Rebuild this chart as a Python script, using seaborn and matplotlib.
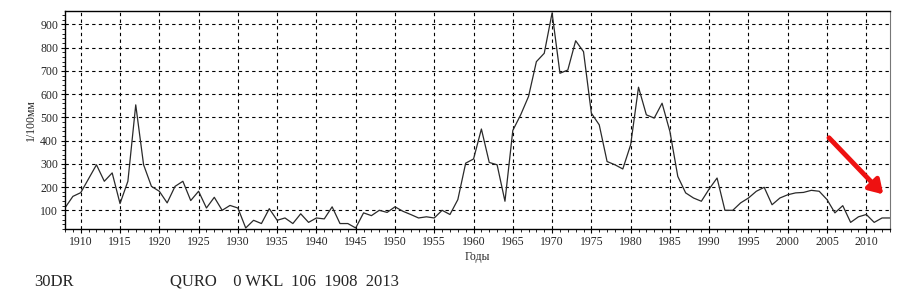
import matplotlib
matplotlib.use("Agg")
import matplotlib.pyplot as plt
from matplotlib.ticker import MultipleLocator
import seaborn as sns
import pandas as pd

years = list(range(1908, 2014))
widths = [
    111, 160, 176, 236, 296, 225, 261, 129, 225, 554,
    296, 203, 182, 132, 203, 225, 142, 182, 110, 156,
    100, 121, 110, 24, 57, 43, 107, 57, 67, 43,
    85, 48, 67, 63, 115, 43, 43, 24, 89, 77,
    100, 91, 115, 96, 82, 67, 72, 67, 100, 82,
    146, 303, 321, 450, 306, 296, 139, 444, 511, 590,
    740, 776, 950, 690, 704, 830, 783, 518, 468, 310,
    296, 278, 382, 630, 511, 497, 561, 439, 246, 175,
    153, 139, 192, 239, 100, 100, 132, 153, 182, 199,
    124, 153, 167, 175, 177, 186, 182, 146, 89, 120,
    48, 72, 82, 48, 67, 67,
]
x_ticks = list(range(1910, 2011, 5))
y_ticks = list(range(100, 901, 100))
footer_left = "30DR"
footer_right = "QURO    0 WKL  106  1908  2013"

df = pd.DataFrame({"year": years, "width": widths})

sns.set_style("white")
plt.rcParams['font.family'] = ['Liberation Serif', 'DejaVu Serif']

fig = plt.figure(figsize=(9.16, 3.06), dpi=100)
ax = fig.add_axes([0.071, 0.252, 0.9005, 0.712])

sns.lineplot(data=df, x="year", y="width", ax=ax, color="#2a2a2a", linewidth=0.9)

ax.set_xlim(1908, 2013)
ax.set_ylim(20, 958)
ax.set_xticks(x_ticks)
ax.set_yticks(y_ticks)
ax.xaxis.set_minor_locator(MultipleLocator(1))
ax.yaxis.set_minor_locator(MultipleLocator(20))
ax.tick_params(axis="both", which="major", labelsize=8.5, length=3, width=0.8,
               direction="out", color="black", pad=2)
ax.tick_params(axis="both", which="minor", length=2, width=0.6, direction="out",
               color="black")
ax.tick_params(axis="x", bottom=True, which="both")
ax.tick_params(axis="y", left=True, which="both")

ax.grid(True, which="major", color="black", linestyle=(0, (3, 3)), linewidth=0.8)

for side in ["left", "bottom", "top"]:
    ax.spines[side].set_color("black")
    ax.spines[side].set_linewidth(1.0)
ax.spines["right"].set_color("#777777")
ax.spines["right"].set_linewidth(0.8)

ax.set_xlabel("Годы", fontsize=8.5, labelpad=2)
ax.set_ylabel("1/100мм", fontsize=8.5, labelpad=2)

# red arrow pointing at recent decline
ax.annotate("", xy=(2012.4, 160), xytext=(2005, 421),
            arrowprops=dict(arrowstyle="-|>,head_length=0.8,head_width=0.5",
                            color="#ee1111", lw=3.5))

fig.text(34 / 916, 1 - 282 / 306, footer_left, fontsize=12, va="center", ha="left")
fig.text(170 / 916, 1 - 282 / 306, footer_right, fontsize=12, va="center", ha="left")

fig.savefig("out.png", dpi=100, facecolor="white")
